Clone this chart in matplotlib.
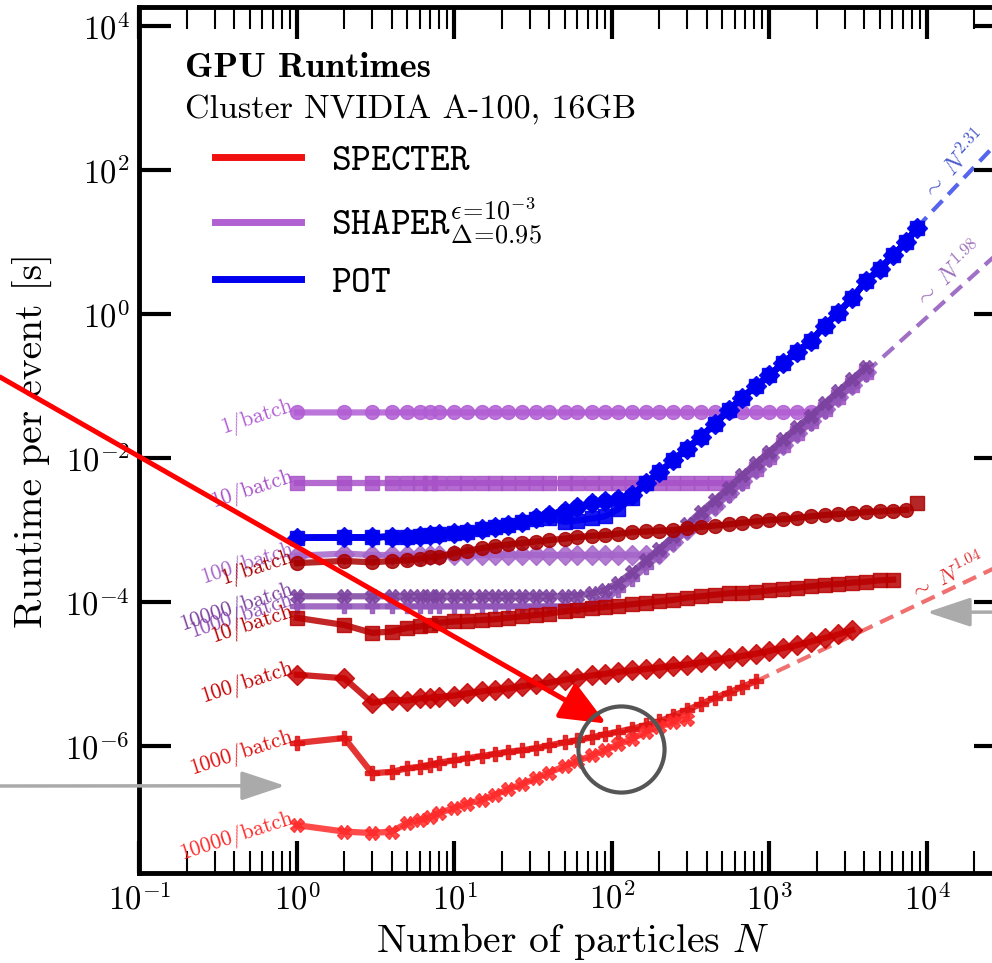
import numpy as np
import matplotlib
matplotlib.use("Agg")
import matplotlib.pyplot as plt
from matplotlib.lines import Line2D
from matplotlib.ticker import LogLocator, FixedLocator, LogFormatterSciNotation, NullLocator

plt.rcParams["font.family"] = "serif"
plt.rcParams["font.serif"] = ["cmr10"]
plt.rcParams["mathtext.fontset"] = "cm"
plt.rcParams["axes.formatter.use_mathtext"] = True

# ---------------- data ----------------
N_ALL = [1, 2, 3, 4, 5, 6, 7, 8, 10, 12, 15, 18, 22, 27, 33, 40, 50, 60, 75, 90,
         110, 135, 165, 200, 245, 300, 365, 450, 550, 670, 820, 1000, 1220, 1500,
         1830, 2240, 2740, 3350, 4100, 5000, 6100, 7400, 8600]

BATCH_LABELS = ["1/batch", "10/batch", "100/batch", "1000/batch", "10000/batch"]

SPECTER_1 = [3.47e-4, 3.72e-4, 3.55e-4, 3.72e-4, 3.80e-4, 3.98e-4, 4.17e-4, 4.27e-4, 4.79e-4, 5.13e-4,
             5.62e-4, 6.03e-4, 6.31e-4, 6.61e-4, 6.92e-4, 7.24e-4, 7.59e-4, 7.94e-4, 8.32e-4, 8.51e-4,
             8.91e-4, 9.33e-4, 9.55e-4, 9.77e-4, 1.00e-3, 1.05e-3, 1.10e-3, 1.15e-3, 1.20e-3, 1.26e-3,
             1.32e-3, 1.38e-3, 1.41e-3, 1.48e-3, 1.55e-3, 1.62e-3, 1.66e-3, 1.70e-3, 1.78e-3, 1.82e-3,
             1.86e-3, 1.91e-3]
SPECTER_1_EXTRA_N = [8600]
SPECTER_1_EXTRA_T = [2.4e-3]
SPECTER_10 = [6.03e-5, 4.79e-5, 3.72e-5, 3.89e-5, 4.37e-5, 4.57e-5, 4.79e-5, 5.13e-5, 5.37e-5, 5.50e-5,
              5.62e-5, 5.75e-5, 6.03e-5, 6.31e-5, 6.61e-5, 6.92e-5, 7.41e-5, 7.76e-5, 8.13e-5, 8.51e-5,
              8.91e-5, 9.33e-5, 9.77e-5, 1.02e-4, 1.07e-4, 1.15e-4, 1.20e-4, 1.26e-4, 1.32e-4, 1.35e-4,
              1.38e-4, 1.45e-4, 1.51e-4, 1.58e-4, 1.66e-4, 1.74e-4, 1.78e-4, 1.86e-4, 1.91e-4, 2.00e-4,
              2.04e-4]
SPECTER_100 = [9.77e-6, 8.71e-6, 3.98e-6, 4.37e-6, 4.27e-6, 4.57e-6, 4.68e-6, 4.79e-6, 5.01e-6, 5.37e-6,
               5.75e-6, 6.03e-6, 6.31e-6, 6.76e-6, 7.24e-6, 7.59e-6, 8.32e-6, 8.91e-6, 9.55e-6, 1.00e-5,
               1.07e-5, 1.12e-5, 1.17e-5, 1.23e-5, 1.29e-5, 1.35e-5, 1.45e-5, 1.55e-5, 1.66e-5, 1.78e-5,
               1.91e-5, 2.09e-5, 2.29e-5, 2.51e-5, 2.82e-5, 3.16e-5, 3.55e-5, 4.07e-5]
SPECTER_1000 = [1.10e-6, 1.29e-6, 4.17e-7, 4.37e-7, 4.90e-7, 5.13e-7, 5.50e-7, 5.89e-7, 6.31e-7, 6.76e-7,
                7.24e-7, 7.76e-7, 8.32e-7, 8.71e-7, 9.33e-7, 1.02e-6, 1.12e-6, 1.20e-6, 1.32e-6, 1.45e-6,
                1.58e-6, 1.74e-6, 1.95e-6, 2.19e-6, 2.63e-6, 3.16e-6, 3.80e-6, 4.68e-6, 5.50e-6, 6.61e-6,
                7.94e-6]
SPECTER_10000 = [7.94e-8, 6.46e-8, 6.17e-8, 6.46e-8, 8.51e-8, 9.33e-8, 1.02e-7, 1.17e-7, 1.38e-7, 1.58e-7,
                 1.78e-7, 2.09e-7, 2.51e-7, 2.95e-7, 3.55e-7, 4.27e-7, 5.25e-7, 6.17e-7, 7.41e-7, 8.71e-7,
                 1.05e-6, 1.26e-6, 1.58e-6, 1.86e-6, 2.14e-6, 2.40e-6]

SHAPER_1 = [0.043, 0.043, 0.043, 0.043, 0.043, 0.043, 0.043, 0.043, 0.043, 0.043,
            0.043, 0.043, 0.043, 0.043, 0.043, 0.043, 0.043, 0.043, 0.043, 0.043,
            0.043, 0.043, 0.043, 0.043, 0.043, 0.043, 0.043, 0.043, 0.043, 0.043,
            0.043, 0.043, 0.043, 0.043, 0.044, 0.0479, 0.0708, 0.105, 0.155]
SHAPER_10 = [4.5e-3, 4.5e-3, 4.5e-3, 4.5e-3, 4.5e-3, 4.5e-3, 4.5e-3, 4.5e-3, 4.5e-3, 4.5e-3,
             4.5e-3, 4.5e-3, 4.5e-3, 4.5e-3, 4.5e-3, 4.5e-3, 4.5e-3, 4.5e-3, 4.5e-3, 4.5e-3,
             4.5e-3, 4.5e-3, 4.5e-3, 4.5e-3, 4.5e-3, 4.5e-3, 4.5e-3, 4.5e-3, 4.5e-3, 4.79e-3,
             7.08e-3, 1.02e-2, 1.51e-2, 2.24e-2, 3.24e-2, 4.79e-2, 7.08e-2, 0.105, 0.155]
SHAPER_100 = [4.4e-4, 4.7e-4, 4.5e-4, 4.5e-4, 4.5e-4, 4.5e-4, 4.5e-4, 4.5e-4, 4.5e-4, 4.5e-4,
              4.5e-4, 4.5e-4, 4.5e-4, 4.5e-4, 4.5e-4, 4.5e-4, 4.5e-4, 4.5e-4, 4.5e-4, 4.5e-4,
              4.5e-4, 4.5e-4, 4.5e-4, 4.6e-4, 6.76e-4, 1.0e-3, 1.48e-3, 2.19e-3, 3.24e-3, 4.79e-3,
              7.08e-3, 1.02e-2, 1.51e-2, 2.24e-2, 3.24e-2, 4.79e-2, 7.08e-2, 0.105, 0.155]
SHAPER_1000 = [8.7e-5, 8.7e-5, 8.7e-5, 8.7e-5, 8.7e-5, 8.7e-5, 8.7e-5, 8.7e-5, 8.7e-5, 8.7e-5,
               8.7e-5, 8.7e-5, 8.7e-5, 8.7e-5, 8.7e-5, 8.7e-5, 8.7e-5, 8.7e-5, 9.3e-5, 1.10e-4,
               1.45e-4, 2.09e-4, 3.09e-4, 4.47e-4, 6.61e-4, 9.77e-4, 1.41e-3, 2.09e-3, 3.09e-3, 4.57e-3,
               6.76e-3, 9.77e-3, 1.45e-2, 2.14e-2, 3.09e-2, 4.57e-2, 6.76e-2, 0.100, 0.148]
SHAPER_10000 = [1.2e-4, 1.2e-4, 1.2e-4, 1.2e-4, 1.2e-4, 1.2e-4, 1.2e-4, 1.2e-4, 1.2e-4, 1.2e-4,
                1.2e-4, 1.2e-4, 1.2e-4, 1.2e-4, 1.2e-4, 1.2e-4, 1.2e-4, 1.23e-4, 1.32e-4, 1.48e-4,
                1.86e-4, 2.63e-4, 3.80e-4, 5.50e-4, 8.13e-4, 1.20e-3, 1.78e-3, 2.63e-3, 3.89e-3, 5.75e-3,
                8.51e-3, 1.23e-2, 1.82e-2, 2.69e-2, 3.89e-2, 5.75e-2, 8.51e-2, 0.126, 0.182]

POT = [7.8e-4, 7.9e-4, 7.9e-4, 8.1e-4, 8.1e-4, 8.3e-4, 8.5e-4, 8.7e-4, 9.1e-4, 9.5e-4,
       1.02e-3, 1.10e-3, 1.17e-3, 1.29e-3, 1.45e-3, 1.62e-3, 1.86e-3, 2.09e-3, 2.34e-3, 2.57e-3,
       2.69e-3, 3.02e-3, 4.57e-3, 6.3e-3, 9.3e-3, 1.35e-2, 1.95e-2, 3.0e-2, 4.6e-2, 6.9e-2,
       0.100, 0.141, 0.209, 0.302, 0.417, 0.69, 1.05, 1.66, 2.88, 4.17,
       6.6, 10.0, 15.8]
POT_SQ = [7.8e-4, 7.9e-4, 7.9e-4, 8.1e-4, 8.1e-4, 8.3e-4, 8.5e-4, 8.7e-4, 9.1e-4, 9.5e-4,
          1.02e-3, 1.10e-3, 1.17e-3, 1.29e-3, 1.40e-3, 1.45e-3, 1.30e-3, 1.35e-3, 1.45e-3, 1.55e-3,
          1.95e-3, 2.8e-3, 4.57e-3, 6.3e-3, 9.3e-3, 1.35e-2, 1.95e-2, 3.0e-2, 4.6e-2, 6.9e-2,
          0.100, 0.141, 0.209, 0.302, 0.417, 0.69, 1.05, 1.66, 2.88, 4.17,
          6.6, 10.0, 15.8]

# power-law fits (start, end)
FIT_POT_N, FIT_POT_T = [8600, 31623], [15.8, 320.0]
FIT_SHAPER_N, FIT_SHAPER_T = [4100, 31623], [0.155, 8.8]
FIT_SPECTER_N, FIT_SPECTER_T = [820, 31623], [7.9e-6, 3.5e-4]
FIT_LABELS = [r"$\sim\ N^{2.31}$", r"$\sim\ N^{1.98}$", r"$\sim\ N^{1.04}$"]

LEGEND_LABELS = [r"$\mathtt{SPECTER}$",
                 r"$\mathtt{SHAPER}^{\epsilon\!=\!10^{-3}}_{\Delta\!=\!0.95}$",
                 r"$\mathtt{POT}$"]
Y_TICKS = [1e-6, 1e-4, 1e-2, 1e0, 1e2, 1e4]

# ---------------- style ----------------
MARKERS = ["o", "s", "D", "P", "X"]
SPECTER_COLORS = ["#a80000", "#b80000", "#c60000", "#e01010", "#ff2a2a"]
SHAPER_COLORS = ["#b15dd4", "#a852c8", "#a565c9", "#9154b8", "#7b429f"]
POT_COLOR = "#0000f0"

fig = plt.figure(figsize=(9.92, 9.63), dpi=100)
ax = fig.add_axes([0.1406, 0.0935, 0.8732, 0.8993])
ax.set_xscale("log")
ax.set_yscale("log")
ax.set_xlim(0.1, 31623)
ax.set_ylim(1.72e-8, 1.85e4)

LW = 4.5
MS = 10

# fits
ax.plot(FIT_POT_N, FIT_POT_T, color="#5565ee", lw=3, dashes=(3.5, 2), zorder=1)
ax.plot(FIT_SHAPER_N, FIT_SHAPER_T, color="#a070c6", lw=3, dashes=(3.5, 2), zorder=1)
ax.plot(FIT_SPECTER_N, FIT_SPECTER_T, color="#f07070", lw=3, dashes=(3.5, 2), zorder=1)

shaper = [SHAPER_1, SHAPER_10, SHAPER_100, SHAPER_1000, SHAPER_10000]
specter = [SPECTER_1, SPECTER_10, SPECTER_100, SPECTER_1000, SPECTER_10000]

for vals, m, c in zip(shaper, MARKERS, SHAPER_COLORS):
    ax.plot(N_ALL[:len(vals)], vals, marker=m, color=c, lw=LW, ms=MS, alpha=0.85, zorder=2)
for vals, m, c in zip(specter, MARKERS, SPECTER_COLORS):
    ax.plot(N_ALL[:len(vals)], vals, marker=m, color=c, lw=LW, ms=MS, alpha=0.85, zorder=3)
ax.plot(SPECTER_1_EXTRA_N, SPECTER_1_EXTRA_T, marker="s", color=SPECTER_COLORS[0], ms=MS,
        ls="none", alpha=0.85, zorder=3)

for m in MARKERS:
    vals = POT_SQ if m == "s" else POT
    ax.plot(N_ALL[:len(vals)], vals, marker=m, color=POT_COLOR, lw=LW, ms=MS, alpha=0.9, zorder=4)

# batch labels
for vals, lbl, c in zip(shaper, BATCH_LABELS, SHAPER_COLORS):
    ax.annotate(lbl, xy=(N_ALL[0], vals[0]), xytext=(-3, 5), textcoords="offset points",
                ha="right", va="center", rotation=18, rotation_mode="anchor",
                color=c, fontsize=15.5, zorder=5)
for vals, lbl, c in zip(specter, BATCH_LABELS, SPECTER_COLORS):
    ax.annotate(lbl, xy=(N_ALL[0], vals[0]), xytext=(-3, 5), textcoords="offset points",
                ha="right", va="center", rotation=18, rotation_mode="anchor",
                color=c, fontsize=15.5, zorder=5)

# fit labels
ax.text(15000, 115, FIT_LABELS[0], rotation=46.5, rotation_mode="anchor", ha="center", va="center",
        color="#4a5acb", fontsize=17)
ax.text(13800, 3.5, FIT_LABELS[1], rotation=42, rotation_mode="anchor", ha="center", va="center",
        color="#9a6ebb", fontsize=17)
ax.text(13500, 2.3e-4, FIT_LABELS[2], rotation=25, rotation_mode="anchor", ha="center", va="center",
        color="#e03030", fontsize=16)

# axes styling
ax.xaxis.set_major_locator(LogLocator(base=10, numticks=20))
ax.xaxis.set_minor_locator(LogLocator(base=10, subs=np.arange(2, 10), numticks=20))
ax.yaxis.set_major_locator(FixedLocator(Y_TICKS))
ax.yaxis.set_major_formatter(LogFormatterSciNotation(base=10))
ax.yaxis.set_minor_locator(NullLocator())
ax.tick_params(which="both", direction="in", top=True, right=True)
ax.tick_params(which="major", length=23, width=3, labelsize=23.5, pad=7)
ax.tick_params(which="minor", length=16, width=1.5)
for s in ax.spines.values():
    s.set_linewidth(3.5)

ax.set_xlabel(r"Number of particles $N$", fontsize=28.5)
ax.set_ylabel("Runtime per event [s]", fontsize=28.5)
ax.xaxis.set_label_coords(0.5, -0.056)
ax.yaxis.set_label_coords(-0.10, 0.5)

# title + legend
ax.text(0.0525, 0.919, "GPU Runtimes", transform=ax.transAxes, fontfamily="cmb10", fontsize=26,
        va="baseline")
ax.text(0.0525, 0.872, "Cluster NVIDIA A-100, 16GB", transform=ax.transAxes, fontsize=24.5,
        va="baseline")
handles = [Line2D([], [], color=c, lw=5) for c in ["#f01010", "#b060d0", "#0000ee"]]
ax.legend(handles, LEGEND_LABELS, loc="upper left", bbox_to_anchor=(0.087, 0.842), frameon=False,
          fontsize=27, handlelength=2.3, handletextpad=0.8,
          labelspacing=0.5, borderpad=0, borderaxespad=0)

# annotations: arrows and circle
ax.annotate("", xy=(92, 2.05e-6), xycoords="data", xytext=(0.0, 0.6085), textcoords="figure fraction",
            arrowprops=dict(arrowstyle="-|>,head_length=1.4,head_width=0.6", color="#ff0000", lw=3.6,
                            shrinkA=0, shrinkB=0, mutation_scale=20),
            annotation_clip=False, zorder=10)
ax.annotate("", xy=(0.84, 2.8e-7), xycoords="data", xytext=(0.0, 0.1838), textcoords="figure fraction",
            arrowprops=dict(arrowstyle="-|>,head_length=1.35,head_width=0.45", color="#aaaaaa", lw=2.5,
                            shrinkA=0, shrinkB=0, mutation_scale=20),
            annotation_clip=False, zorder=10)
ax.annotate("", xy=(1.0e4, 7.2e-5), xycoords="data", xytext=(1.05, 0.3645), textcoords="figure fraction",
            arrowprops=dict(arrowstyle="-|>,head_length=1.35,head_width=0.45", color="#aaaaaa", lw=2.5,
                            shrinkA=0, shrinkB=0, mutation_scale=20),
            annotation_clip=False, zorder=10)
ax.plot([114], [9.1e-7], marker="o", ms=62, mfc="none", mec="#555555", mew=3, ls="none", zorder=10)

fig.savefig("out.png", dpi=100)
